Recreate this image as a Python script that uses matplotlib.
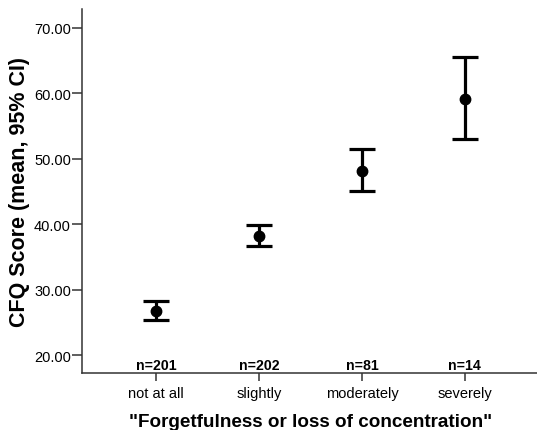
import matplotlib
matplotlib.use("Agg")
import matplotlib.pyplot as plt
import matplotlib.transforms as mtransforms

categories = ["not at all", "slightly", "moderately", "severely"]
means = [26.8, 38.2, 48.2, 59.2]
ci_low = [25.4, 36.6, 45.0, 53.0]
ci_high = [28.3, 39.9, 51.5, 65.5]
n_labels = ["n=201", "n=202", "n=81", "n=14"]
yticks = [20, 30, 40, 50, 60, 70]

plt.rcParams['font.family'] = ['Liberation Sans', 'DejaVu Sans']

fig = plt.figure(figsize=(5.37, 4.31), dpi=100)
ax = fig.add_axes([82/537, 1-374/431, (539-82)/537, (374-10)/431])

x = list(range(len(categories)))
yerr = [[m - l for m, l in zip(means, ci_low)], [h - m for m, h in zip(means, ci_high)]]
ax.errorbar(x, means, yerr=yerr, fmt='o', color='black', ms=7.5,
            elinewidth=2.3, capsize=9.5, capthick=2.3)

ax.set_xlim(-0.72, 3.72)
ax.set_ylim(17.25, 72.9)
ax.set_yticks(yticks)
ax.set_yticklabels([f"{v:.2f}" for v in yticks], fontsize=10.5)
ax.set_xticks(x)
ax.set_xticklabels(categories, fontsize=10.5)

for s in ['top', 'right']:
    ax.spines[s].set_visible(False)
for s in ['left', 'bottom']:
    ax.spines[s].set_linewidth(1.1)
    ax.spines[s].set_color('#333333')
ax.tick_params(axis='y', length=7, width=1.1, color='#333333', pad=1)
ax.tick_params(axis='x', length=6, width=1.1, color='#333333', pad=3.5)

trans = mtransforms.blended_transform_factory(ax.transData, ax.transAxes)
for xi, lab in zip(x, n_labels):
    ax.text(xi, 0.011, lab, transform=trans, ha='center', va='baseline',
            fontsize=10.2, fontweight='bold')

ax.set_ylabel("CFQ Score (mean, 95% CI)", fontsize=15.5, fontweight='bold', labelpad=3)
ax.set_xlabel("\"Forgetfulness or loss of concentration\"", fontsize=13.6,
              fontweight='bold', labelpad=9)

fig.savefig("out.png", dpi=100)
